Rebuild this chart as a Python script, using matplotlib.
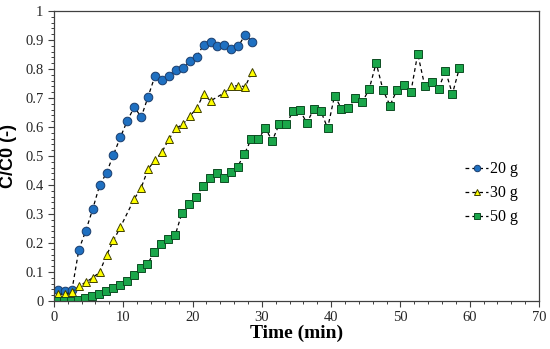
import matplotlib
matplotlib.use("Agg")
import matplotlib.pyplot as plt
from matplotlib.ticker import MultipleLocator

# Data
t20 = [0.6, 1.6, 2.6, 3.6, 4.6, 5.6, 6.6, 7.6, 8.6, 9.6, 10.6, 11.6, 12.6, 13.6, 14.6,
       15.6, 16.6, 17.6, 18.6, 19.6, 20.6, 21.6, 22.6, 23.6, 24.6, 25.6, 26.6, 27.6, 28.6]
c20 = [0.037, 0.033, 0.037, 0.177, 0.242, 0.317, 0.399, 0.442, 0.505, 0.565, 0.622, 0.669,
       0.634, 0.705, 0.777, 0.762, 0.777, 0.798, 0.802, 0.827, 0.843, 0.883, 0.894, 0.881,
       0.883, 0.869, 0.878, 0.918, 0.894]

t30 = [0.6, 1.6, 2.6, 3.6, 4.6, 5.6, 6.6, 7.6, 8.6, 9.6, 11.6, 12.6, 13.6, 14.6, 15.6,
       16.6, 17.6, 18.6, 19.6, 20.6, 21.6, 22.6, 24.6, 25.6, 26.6, 27.6, 28.6]
c30 = [0.023, 0.023, 0.032, 0.051, 0.065, 0.080, 0.100, 0.158, 0.209, 0.255, 0.352, 0.391,
       0.455, 0.486, 0.514, 0.558, 0.595, 0.609, 0.637, 0.664, 0.713, 0.690, 0.718, 0.740,
       0.743, 0.739, 0.790]

t50 = [0.5 + i for i in range(59)]
c50 = [0.0, 0.0, 0.0, 0.003, 0.012, 0.018, 0.025, 0.036, 0.045, 0.055, 0.069, 0.090, 0.113,
       0.128, 0.168, 0.195, 0.214, 0.227, 0.305, 0.335, 0.357, 0.397, 0.425, 0.442, 0.423,
       0.446, 0.463, 0.507, 0.560, 0.557, 0.597, 0.552, 0.609, 0.609, 0.654, 0.657, 0.614,
       0.662, 0.656, 0.596, 0.708, 0.663, 0.666, 0.701, 0.686, 0.731, 0.821, 0.727, 0.674,
       0.728, 0.744, 0.719, 0.853, 0.743, 0.754, 0.731, 0.794, 0.714, 0.802]

labels = ["20 g", "30 g", "50 g"]

fig = plt.figure(figsize=(5.5, 3.49), dpi=100)
ax = fig.add_axes([0.098, 0.1375, 0.882, 0.831])

serif = "Liberation Serif"
line_kw = dict(color="black", linestyle=(0, (3, 2.5)), linewidth=0.9)
ax.plot(t20, c20, marker="o", markersize=6.2, markerfacecolor="#1f70c1",
        markeredgecolor="#1a3d6d", markeredgewidth=0.7, label=labels[0], **line_kw)
ax.plot(t30, c30, marker="^", markersize=6.2, markerfacecolor="#ffff00",
        markeredgecolor="#404000", markeredgewidth=0.7, label=labels[1], **line_kw)
ax.plot(t50, c50, marker="s", markersize=5.8, markerfacecolor="#1aa64a",
        markeredgecolor="#0d4d22", markeredgewidth=0.7, label=labels[2], **line_kw)

ax.set_xlim(0, 70)
ax.set_ylim(0, 1)
ax.xaxis.set_major_locator(MultipleLocator(10))
ax.xaxis.set_minor_locator(MultipleLocator(2))
ax.yaxis.set_major_locator(MultipleLocator(0.1))
ax.yaxis.set_minor_locator(MultipleLocator(0.02))
ax.set_yticks([i / 10 for i in range(11)])
ax.set_yticklabels(["0", "0.1", "0.2", "0.3", "0.4", "0.5", "0.6", "0.7", "0.8", "0.9", "1"])

ax.tick_params(which="both", direction="out", color="#404040")
ax.tick_params(which="major", length=4, width=0.8, labelsize=10.5)
ax.tick_params(which="minor", length=2.5, width=0.7)
for lab in ax.get_xticklabels() + ax.get_yticklabels():
    lab.set_fontfamily(serif)
    lab.set_color("#262626")
for sp in ax.spines.values():
    sp.set_color("#404040")
    sp.set_linewidth(0.9)

ax.set_xlabel("Time (min)", fontfamily=serif, fontweight="bold", fontsize=14, labelpad=0)
ax.set_ylabel("C/C0 (-)", fontfamily="Liberation Sans", fontweight="bold", fontsize=13,
              labelpad=6)

leg = ax.legend(loc="center left", bbox_to_anchor=(0.835, 0.371), frameon=False,
                prop={"family": serif, "size": 11.5}, handlelength=1.4, markerscale=0.75,
                handletextpad=0.15, labelspacing=0.5, borderaxespad=0)

fig.savefig("out.png", dpi=100)
